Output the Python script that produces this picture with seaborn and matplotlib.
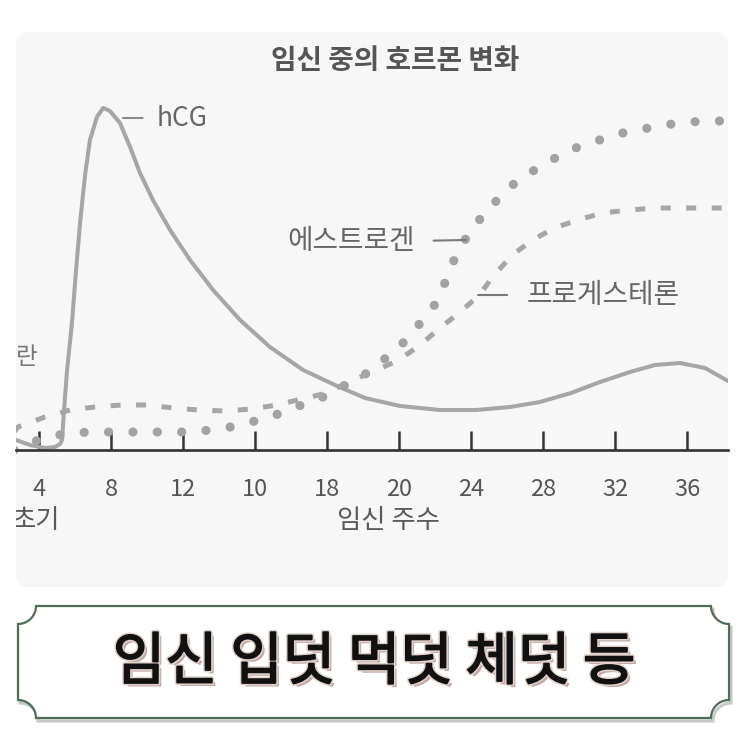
import numpy as np
import matplotlib
matplotlib.use("Agg")
import matplotlib.pyplot as plt
import matplotlib.patheffects as pe
from matplotlib.patches import FancyBboxPatch, PathPatch
from matplotlib.path import Path
from matplotlib.transforms import IdentityTransform
import seaborn as sns
import pandas as pd

# ---------------- data ----------------
tick_pos = [4, 8, 12, 16, 20, 24, 28, 32, 36, 40]
tick_labels = ["4", "8", "12", "10", "18", "20", "24", "28", "32", "36"]

hcg_week = [2.72, 3.50, 4.33, 4.89, 5.17, 5.28, 5.39, 5.56, 5.83, 6.06, 6.28, 6.56,
            6.83, 7.22, 7.56, 7.94, 8.50, 9.06, 9.61, 10.33, 11.28, 12.39, 13.67,
            15.17, 16.83, 18.67, 20.56, 22.11, 24.06, 26.28, 28.28, 30.17, 31.83,
            33.56, 35.17, 36.83, 38.22, 39.61, 41.00, 42.28]
hcg_level = [10, 5, 2, 3, 6, 10, 40, 80, 127, 180, 227, 275,
             310, 333, 342, 339, 327, 303, 277, 250, 220, 190, 160,
             130, 103, 80, 64, 52, 44, 40, 40, 43, 48,
             57, 68, 78, 85, 87, 82, 69]

est_week = [2.61, 3.11, 3.94, 4.78, 5.73, 7.01, 8.29, 9.68, 11.02, 12.30, 13.58,
            14.97, 16.20, 17.48, 18.71, 19.93, 21.21, 22.33, 23.33, 24.28, 25.23,
            26.06, 26.62, 27.06, 27.73, 28.46, 29.29, 30.30, 31.35, 32.47, 33.64,
            34.97, 36.15, 37.54, 38.76, 40.04, 41.44, 42.27]
est_level = [0, 2, 10, 14, 17, 18, 18, 18, 18, 18, 20,
             24, 30, 37, 46, 54, 67, 78, 93, 108, 128,
             147, 170, 190, 212, 230, 247, 265, 278, 290, 301,
             309, 316, 321, 325, 328, 329, 329]

prog_week = [2.61, 2.83, 4.33, 5.73, 7.12, 8.57, 9.96, 11.47, 12.86, 14.36, 15.81,
             17.20, 18.60, 19.99, 21.21, 22.50, 23.89, 25.11, 26.34, 27.34, 28.46,
             29.29, 30.30, 31.41, 32.64, 33.92, 35.31, 36.81, 38.21, 39.77, 41.27, 42.27]
prog_level = [18, 23, 33, 40, 43, 45, 45, 42, 40, 39, 41,
              45, 51, 57, 68, 78, 89, 104, 123, 137, 155,
              175, 195, 210, 222, 230, 237, 240, 242, 242, 242, 242]

title = "임신 중의 호르몬 변화"
xlabel = "임신 주수"
banner = "임신 입덧 먹덧 체덧 등"

# ---------------- style ----------------
sns.set_theme(style="white")
plt.rcParams["font.family"] = ["Noto Sans CJK KR", "DejaVu Sans"]

W = 743
fig = plt.figure(figsize=(7.43, 7.43), dpi=100)
fig.patch.set_facecolor("white")

ax_l, ax_r, ax_t, ax_b = 16, 728, 32, 587
ax = fig.add_axes([ax_l / W, (W - ax_b) / W, (ax_r - ax_l) / W, (ax_b - ax_t) / W])
ax.set_facecolor("none")

panel = FancyBboxPatch((ax_l, W - ax_b), ax_r - ax_l, ax_b - ax_t,
                       boxstyle="round,pad=0,rounding_size=12",
                       transform=IdentityTransform(), facecolor="#f7f7f7",
                       edgecolor="none", zorder=-5)
fig.patches.append(panel)

x0 = 4 + (ax_l - 39) / 18.0
x1 = 4 + (ax_r - 39) / 18.0
ax.set_xlim(x0, x1)
ax.set_ylim(450 - ax_b, 450 - ax_t)

def X(px):
    return 4 + (px - 39) / 18.0

def Y(py):
    return 450 - py

df_h = pd.DataFrame({"week": hcg_week, "level": hcg_level})
df_e = pd.DataFrame({"week": est_week, "level": est_level})
df_p = pd.DataFrame({"week": prog_week, "level": prog_level})

sns.lineplot(data=df_h, x="week", y="level", ax=ax, color="#a6a6a6",
             linewidth=2.9, sort=False, estimator=None)
l_h = ax.lines[-1]
l_h.set_solid_capstyle("round")
l_h.set_solid_joinstyle("round")

sns.lineplot(data=df_e, x="week", y="level", ax=ax, color="#a2a2a2",
             linewidth=6.6, sort=False, estimator=None)
l_e = ax.lines[-1]
l_e.set_linestyle((0, (0.01, 2.65)))
l_e.set_dash_capstyle("round")

sns.lineplot(data=df_p, x="week", y="level", ax=ax, color="#a6a6a6",
             linewidth=3.6, sort=False, estimator=None)
l_p = ax.lines[-1]
l_p.set_linestyle((0, (2.0, 3.1)))
l_p.set_dash_capstyle("butt")

for s in ["left", "right", "top"]:
    ax.spines[s].set_visible(False)
ax.spines["bottom"].set_position(("data", 0))
ax.spines["bottom"].set_color("#333333")
ax.spines["bottom"].set_linewidth(1.9)
ax.set_xticks(tick_pos)
ax.set_xticklabels(tick_labels)
ax.tick_params(axis="x", direction="in", length=13.5, width=1.8, color="#333333",
               pad=20, labelsize=17, labelcolor="#555555", bottom=True)
ax.set_yticks([])
ax.set_xlabel("")
ax.set_ylabel("")

txt_col = "#666666"
fig.text(395 / W, (W - 61) / W, title, ha="center", va="center",
         fontsize=20, fontweight="bold", color="#555555")
fig.text(388 / W, (W - 520) / W, xlabel, ha="center", va="center",
         fontsize=19, color="#5a5a5a")
ax.text(X(60), Y(520), "초기", ha="right", va="center", fontsize=19,
        color="#5a5a5a", clip_on=True)
ax.text(X(38), Y(358), "란", ha="right", va="center", fontsize=17,
        color="#777777", clip_on=True)

ax.annotate("hCG", xy=(X(123), Y(118)), xytext=(X(157), Y(118)),
            ha="left", va="center", fontsize=19, color=txt_col,
            arrowprops=dict(arrowstyle="-", color="#8a8a8a", lw=1.5,
                            shrinkA=8, shrinkB=0, relpos=(0, 0.5)))
ax.annotate("에스트로겐", xy=(X(466), Y(240)), xytext=(X(415), Y(241)),
            ha="right", va="center", fontsize=20, color=txt_col,
            arrowprops=dict(arrowstyle="-", color="#7a7a7a", lw=1.5,
                            shrinkA=11, shrinkB=0, relpos=(1, 0.5)))
ax.annotate("프로게스테론", xy=(X(478), Y(295)), xytext=(X(527), Y(295)),
            ha="left", va="center", fontsize=20, color=txt_col,
            arrowprops=dict(arrowstyle="-", color="#7a7a7a", lw=1.5,
                            shrinkA=12, shrinkB=0, relpos=(0, 0.5)))

# ---------------- banner ----------------
bl, br, bt, bb = 18, 729, W - 606, W - 718
r = 18

def arc(cx, cy, a0, a1, n=16):
    t = np.radians(np.linspace(a0, a1, n))
    return list(zip(cx + r * np.cos(t), cy + r * np.sin(t)))

verts = []
verts += [(bl + r, bt), (br - r, bt)]
verts += arc(br, bt, 180, 270)
verts += [(br, bb + r)]
verts += arc(br, bb, 90, 180)
verts += [(bl + r, bb)]
verts += arc(bl, bb, 0, 90)
verts += [(bl, bt - r)]
verts += arc(bl, bt, 270, 360)
verts.append(verts[0])
codes = [Path.MOVETO] + [Path.LINETO] * (len(verts) - 2) + [Path.CLOSEPOLY]

shadow_verts = [(vx + 2, vy - 3) for vx, vy in verts]
fig.patches.append(PathPatch(Path(shadow_verts, codes), transform=IdentityTransform(),
                             facecolor="none", edgecolor="#c8c8c8", lw=2.2, zorder=1))
fig.patches.append(PathPatch(Path(verts, codes), transform=IdentityTransform(),
                             facecolor="white", edgecolor="#4f6e57", lw=1.6, zorder=2))

fig.text(374 / W, (W - 663) / W, banner, ha="center", va="center",
         fontsize=41, fontweight="normal", color="#111111", zorder=5,
         path_effects=[pe.SimplePatchShadow(offset=(2.5, -2.5), shadow_rgbFace="#b39690", alpha=0.8),
                       pe.Stroke(linewidth=3.5, foreground="#e2d2cc"),
                       pe.Stroke(linewidth=1.3, foreground="#111111"),
                       pe.Normal()])

fig.savefig("out.png", dpi=100, facecolor="white")
